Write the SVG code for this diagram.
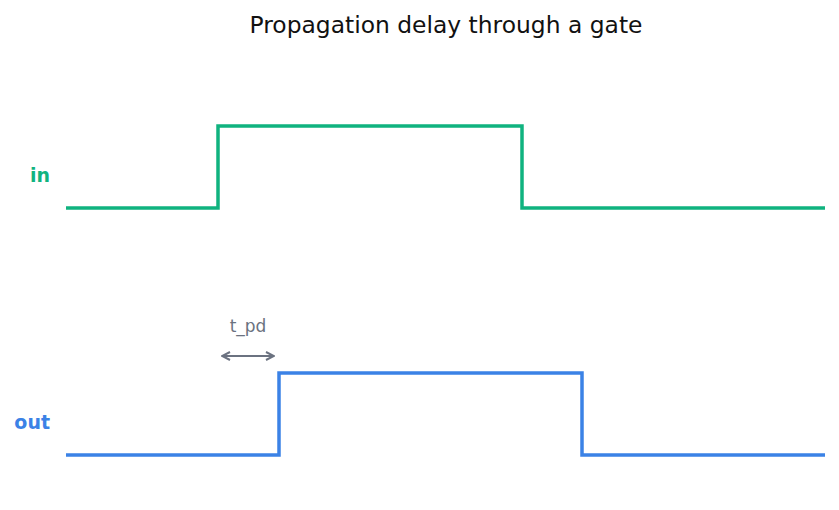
<svg xmlns="http://www.w3.org/2000/svg" width="839" height="510" viewBox="0 0 839 510">
<style>
.title{font-family:"DejaVu Sans",sans-serif;font-size:23.4px;fill:#111111;text-anchor:middle}
.lbl{font-family:"DejaVu Sans",sans-serif;font-size:19px;font-weight:bold;text-anchor:end}
.wave{fill:none;stroke-width:3.5;stroke-linejoin:miter}
.ann{font-family:"DejaVu Sans",sans-serif;font-size:17px;fill:#6b7280;text-anchor:middle}
</style>
<defs>
<marker id="ah" viewBox="0 0 10 10" refX="9" refY="5" markerWidth="10" markerHeight="10" markerUnits="userSpaceOnUse" orient="auto-start-reverse">
<path d="M1,1 L9,5 L1,9" fill="none" stroke="#6b7280" stroke-width="2"/>
</marker>
</defs>
<rect width="839" height="510" fill="#ffffff"/>
<text class="title" x="446" y="33">Propagation delay through a gate</text>
<g id="in">
<text class="lbl" x="50" y="182" fill="#10b37f">in</text>
<path class="wave" stroke="#10b37f" d="M66,208 H218 V126 H522 V208 H825"/>
</g>
<g id="out">
<text class="lbl" x="50" y="429" fill="#3b82e6">out</text>
<path class="wave" stroke="#3b82e6" d="M66,455 H279 V373 H582 V455 H825"/>
</g>
<g id="connectors">
<text class="ann" x="248" y="332">t_pd</text>
<line x1="222" y1="356" x2="274" y2="356" stroke="#6b7280" stroke-width="2" marker-start="url(#ah)" marker-end="url(#ah)"/>
</g>
</svg>
